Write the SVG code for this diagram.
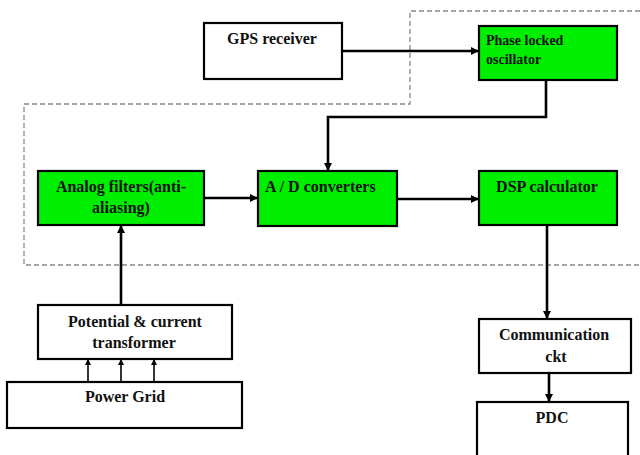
<svg xmlns="http://www.w3.org/2000/svg" width="640" height="455" viewBox="0 0 640 455">
<defs>
<style>
.box{stroke:#000;stroke-width:2.2}
.w{fill:#fff}
.g{fill:#00ee00}
text{font-family:"Liberation Serif","Times New Roman",serif;font-weight:bold;font-size:16px;fill:#111}
.c{text-anchor:middle}
.sm{font-size:14px}
.con{fill:none;stroke:#000;stroke-width:2.6}
.thin{fill:none;stroke:#000;stroke-width:1.6}
.dash{fill:none;stroke:#888;stroke-width:1.3;stroke-dasharray:5 3}
</style>
<marker id="ah" viewBox="0 0 10 10" refX="10" refY="5" markerUnits="userSpaceOnUse" markerWidth="9" markerHeight="8" orient="auto">
<path d="M0,0 L10,5 L0,10 z" fill="#000"/>
</marker>
<marker id="ahs" viewBox="0 0 10 10" refX="10" refY="5" markerUnits="userSpaceOnUse" markerWidth="7" markerHeight="6" orient="auto">
<path d="M0,0 L10,5 L0,10 z" fill="#000"/>
</marker>
</defs>
<rect width="640" height="455" fill="#fff"/>
<path class="dash" d="M640,11 H410 V104 H24 V265 H640"/>
<g id="connectors">
<path class="con" d="M342,51 H479" marker-end="url(#ah)"/>
<path class="con" d="M546,80 V117 H328 V171" marker-end="url(#ah)"/>
<path class="con" d="M204,198 H258" marker-end="url(#ah)"/>
<path class="con" d="M397,199 H479" marker-end="url(#ah)"/>
<path class="con" d="M547,225 V319" marker-end="url(#ah)"/>
<path class="con" d="M549,369 V402" marker-end="url(#ah)"/>
<path class="con" d="M121,305 V225" marker-end="url(#ah)"/>
<path class="thin" d="M88,386 V359" marker-end="url(#ahs)"/>
<path class="thin" d="M121,386 V359" marker-end="url(#ahs)"/>
<path class="thin" d="M154,386 V359" marker-end="url(#ahs)"/>
</g>
<g id="gps">
<rect class="box w" x="204" y="23" width="138" height="56"/>
<text class="c" x="272" y="44">GPS receiver</text>
</g>
<g id="plo">
<rect class="box g" x="479" y="26" width="138" height="54"/>
<text class="sm" x="486" y="45">Phase locked</text>
<text class="sm" x="486" y="64">oscillator</text>
</g>
<g id="analog">
<rect class="box g" x="38" y="171" width="166" height="54"/>
<text class="c" x="121" y="192">Analog filters(anti-</text>
<text class="c" x="121" y="213">aliasing)</text>
</g>
<g id="adc">
<rect class="box g" x="258" y="171" width="139" height="55"/>
<text x="265" y="192">A / D converters</text>
</g>
<g id="dsp">
<rect class="box g" x="479" y="171" width="138" height="54"/>
<text class="c" x="547" y="192">DSP calculator</text>
</g>
<g id="pct">
<rect class="box w" x="38" y="305" width="194" height="54"/>
<text class="c" x="135" y="327">Potential &amp; current</text>
<text class="c" x="134" y="348">transformer</text>
</g>
<g id="grid">
<rect class="box w" x="7" y="382" width="235" height="46"/>
<text class="c" x="125" y="402">Power Grid</text>
</g>
<g id="comm">
<rect class="box w" x="479" y="319" width="152" height="54"/>
<text class="c" x="554" y="340">Communication</text>
<text class="c" x="556" y="362">ckt</text>
</g>
<g id="pdc">
<rect class="box w" x="477" y="402" width="151" height="60"/>
<text class="c" x="552" y="423">PDC</text>
</g>
</svg>
